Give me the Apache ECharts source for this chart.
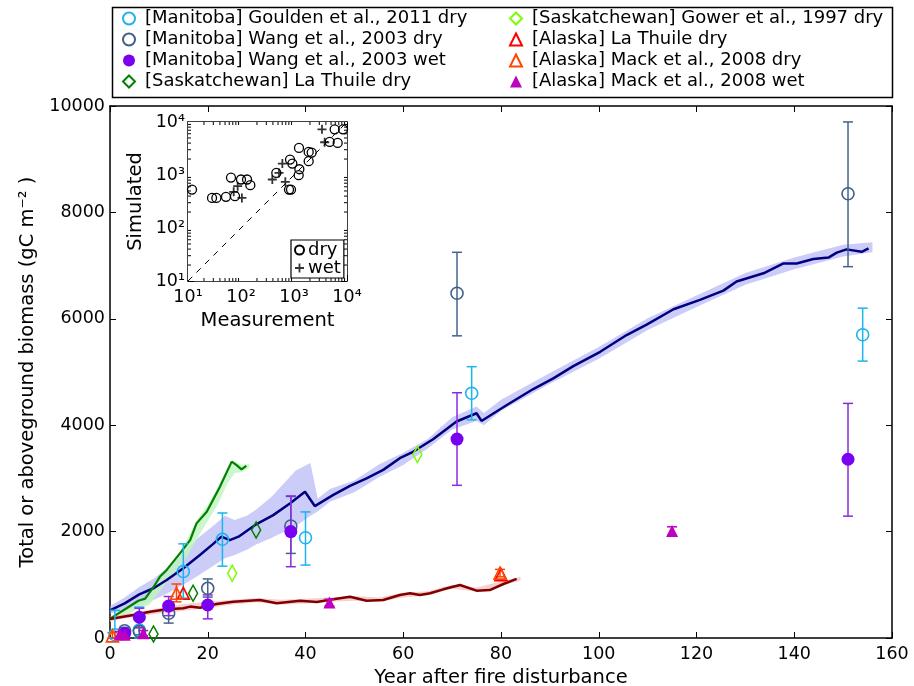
<!DOCTYPE html>
<html lang="en">
<head>
<meta charset="UTF-8">
<title>Biomass after fire disturbance</title>
<script src="https://cdn.jsdelivr.net/npm/echarts@6/dist/echarts.min.js"></script>
<style>body{margin:0;background:#fff}</style>
</head>
<body>
<div id="main" style="width:914px;height:686px;"></div>
<script>
// simulated curves
var navyYears = [0, 3, 6, 9, 11.6, 15, 18.4, 21, 22.8, 24.5, 26.3, 29.7, 33.4, 36.8, 39.9, 41.9, 45.7, 49.1, 52.5, 55.9, 59.3, 62, 66.1, 70.9, 75, 76, 81.2, 86.6, 90.7, 94.8, 100.3, 105.7, 109.8, 115.3, 120.7, 125.5, 128.2, 133.7, 137.8, 140.5, 143.9, 147, 148.7, 150.7, 153.8, 155.2];
var navyValues = [520, 650, 820, 940, 1090, 1310, 1560, 1760, 1905, 1840, 1905, 2125, 2310, 2530, 2750, 2480, 2690, 2860, 3000, 3160, 3380, 3500, 3735, 4070, 4225, 4080, 4380, 4680, 4880, 5110, 5380, 5695, 5890, 6180, 6355, 6530, 6700, 6855, 7040, 7040, 7125, 7150, 7245, 7305, 7260, 7325];
var navyBandYears = [0, 3, 6, 9, 12, 15, 18, 21, 23.5, 25.5, 28, 30, 33, 35, 38, 41, 42.5, 45, 50, 55, 60, 65, 70, 75, 76.5, 80, 90, 100, 110, 120, 130, 140, 150, 156];
var navyBandHigh = [600, 760, 960, 1120, 1340, 1600, 1880, 2100, 2300, 2220, 2300, 2420, 2650, 2850, 3150, 3290, 2620, 2800, 2960, 3260, 3480, 3740, 4150, 4350, 4230, 4480, 4980, 5470, 6010, 6440, 6860, 7150, 7390, 7440];
var navyBandLow = [460, 520, 600, 720, 850, 1000, 1170, 1350, 1500, 1560, 1660, 1760, 1880, 1970, 2100, 2300, 2380, 2560, 2740, 3020, 3250, 3560, 3920, 4080, 4000, 4270, 4780, 5250, 5790, 6220, 6640, 6930, 7170, 7250];

var greenYears = [0, 1, 3.4, 5.8, 7.2, 9.2, 10.2, 11.6, 14.3, 16.4, 17.7, 19.8, 22.5, 24.9, 25.9, 26.9, 27.9];
var greenValues = [360, 420, 560, 700, 740, 1000, 1150, 1280, 1590, 1840, 2155, 2375, 2845, 3315, 3250, 3170, 3235];
var greenBandYears = [0, 3, 6, 8, 10, 12, 14, 16, 18, 20, 22, 24, 25.5, 27, 28.5];
var greenBandHigh = [380, 560, 720, 820, 1120, 1330, 1540, 1900, 2250, 2500, 2830, 3200, 3320, 3250, 3280];
var greenBandLow = [300, 420, 560, 620, 850, 1100, 1320, 1560, 1900, 2200, 2500, 2900, 3100, 3120, 3200];

var redYears = [0, 4.8, 8.2, 11.6, 15, 16.4, 18.4, 21.8, 25.2, 30.7, 34.1, 38.9, 42.3, 45.7, 49.1, 52.5, 55.9, 59.3, 61.4, 63.4, 65.5, 68.2, 71.6, 75, 77.7, 80.5, 83.2];
var redValues = [357, 432, 495, 540, 558, 590, 570, 640, 682, 714, 652, 700, 677, 727, 776, 700, 714, 808, 840, 808, 840, 915, 996, 890, 900, 1015, 1110];
var redBandYears = [0, 5, 10, 15, 20, 25, 30, 35, 40, 45, 50, 55, 60, 65, 70, 75, 80, 84];
var redBandHigh = [400, 480, 560, 640, 680, 720, 750, 720, 740, 760, 790, 760, 850, 880, 1000, 950, 1060, 1150];
var redBandLow = [320, 400, 460, 510, 560, 630, 670, 630, 650, 680, 700, 680, 760, 800, 930, 870, 980, 1080];

// measurements: [year, value, low, high]
var goulden = [[1, 60, 0, 520], [6, 150, 0, 580], [15, 1250, 750, 1770], [23, 1855, 1350, 2350], [40, 1885, 1370, 2370], [74, 4600, 4100, 5100], [154, 5700, 5205, 6200]];
var wangDry = [[3, 137, 80, 200], [6, 125, 60, 190], [12, 464, 280, 660], [20, 934, 770, 1110], [37, 2105, 1590, 2660], [71, 6480, 5680, 7250], [151, 8350, 6980, 9700]];
var wangWet = [[3, 90, 40, 140], [6, 390, 200, 560], [12, 600, 420, 780], [20, 620, 360, 810], [37, 2000, 1340, 2670], [71, 3740, 2870, 4610], [151, 3360, 2290, 4410]];
var sasLaThuile = [[8.9, 75], [17, 840], [29.9, 2030]];
var gower = [[25, 1215], [62.9, 3450]];
var akLaThuile = [[15, 840], [80, 1190]];
var mackDry = [[0.5, 40, 0, 100], [13.6, 840, 680, 1015], [79.8, 1220, 1150, 1290]];
var mackWet = [[2, 70, 20, 120], [3, 60, 20, 100], [6.8, 90, 40, 140], [44.9, 665, 600, 730], [115, 2010, 1930, 2090]];

// inset: [measurement, simulated]
var insetDry = [[11.9, 532], [28.4, 370], [34.3, 370], [52, 387], [64.7, 896], [77, 399], [100, 822], [130, 822], [150, 643], [464, 1096], [841, 1955], [931, 1643], [805, 532], [878, 532], [1242, 3242], [1262, 1285], [1225, 991], [1892, 1820], [1892, 2730], [2155, 2650], [4709, 4207], [6668, 4026], [5850, 7280], [8410, 7280]];
var insetWet = [[86.5, 615], [72.8, 481], [104, 370], [390, 822], [521, 1096], [603, 1643], [686, 743], [3373, 7280], [3791, 4150]];
var oneToOne = [[10, 10], [10000, 10000]];

var names = ['[Manitoba] Goulden et al., 2011 dry', '[Manitoba] Wang et al., 2003 dry', '[Manitoba] Wang et al., 2003 wet', '[Saskatchewan] La Thuile dry',
  '[Saskatchewan] Gower et al., 1997 dry', '[Alaska] La Thuile dry', '[Alaska] Mack et al., 2008 dry', '[Alaska] Mack et al., 2008 wet'];

var font = 'DejaVu Sans';
var plusPath = 'path://M4,0L6,0L6,4L10,4L10,6L6,6L6,10L4,10L4,6L0,6L0,4L4,4Z';
var sup = {1: '10\u00b9', 2: '10\u00b2', 3: '10\u00b3', 4: '10\u2074'};

// log minor tick positions for the inset (2..9 x 10^k)
var minorTicks = [];
for (var k = 1; k < 4; k++) for (var m = 2; m < 10; m++) minorTicks.push(m * Math.pow(10, k));

function band(years, low, high, color) {
  return {
    type: 'custom', xAxisIndex: 0, yAxisIndex: 0, z: 1, silent: true,
    data: years.map(function (y, i) { return [y, low[i], high[i]]; }),
    encode: {x: 0, y: [1, 2]},
    renderItem: function (params, api) {
      if (params.dataIndex !== 0) return;
      var p = [];
      for (var i = 0; i < years.length; i++) p.push(api.coord([years[i], high[i]]));
      for (var j = years.length - 1; j >= 0; j--) p.push(api.coord([years[j], low[j]]));
      return {type: 'polygon', shape: {points: p}, style: {fill: color}};
    }
  };
}

function line(years, vals, color, w) {
  return {
    type: 'line', xAxisIndex: 0, yAxisIndex: 0, z: 2, symbol: 'none', silent: true,
    data: years.map(function (y, i) { return [y, vals[i]]; }),
    lineStyle: {color: color, width: w}
  };
}

function errBars(rows, color) {
  return {
    type: 'custom', xAxisIndex: 0, yAxisIndex: 0, z: 3, silent: true,
    data: rows.filter(function (r) { return r.length > 2; }),
    encode: {x: 0, y: [2, 3]},
    renderItem: function (params, api) {
      var x = api.value(0);
      var a = api.coord([x, api.value(3)]), b = api.coord([x, api.value(2)]);
      var st = {stroke: color, lineWidth: 1.5};
      return {type: 'group', children: [
        {type: 'line', shape: {x1: a[0], y1: a[1], x2: b[0], y2: b[1]}, style: st},
        {type: 'line', shape: {x1: a[0] - 5, y1: a[1], x2: a[0] + 5, y2: a[1]}, style: st},
        {type: 'line', shape: {x1: b[0] - 5, y1: b[1], x2: b[0] + 5, y2: b[1]}, style: st}
      ]};
    }
  };
}

function pts(name, rows, symbol, size, color, hollow) {
  return {
    name: name, type: 'scatter', xAxisIndex: 0, yAxisIndex: 0, z: 4,
    symbol: symbol, symbolSize: size,
    itemStyle: hollow ? {color: 'rgba(255,255,255,0)', borderColor: color, borderWidth: 1.6, opacity: 1}
                      : {color: color, opacity: 1},
    data: rows.map(function (r) { return [r[0], r[1]]; })
  };
}

// minor ticks of the inset log axes, drawn on all four sides
var insetMinor = {
  type: 'custom', xAxisIndex: 2, yAxisIndex: 2, z: 6, silent: true,
  data: minorTicks.map(function (v) { return [v, v]; }),
  renderItem: function (params, api) {
    var v = api.value(0);
    var lo = api.coord([10, 10]), hi = api.coord([10000, 10000]);
    var px = api.coord([v, 10])[0], py = api.coord([10, v])[1];
    var st = {stroke: '#000', lineWidth: 1};
    return {type: 'group', children: [
      {type: 'line', shape: {x1: px, y1: lo[1], x2: px, y2: lo[1] - 3}, style: st},
      {type: 'line', shape: {x1: px, y1: hi[1], x2: px, y2: hi[1] + 3}, style: st},
      {type: 'line', shape: {x1: lo[0], y1: py, x2: lo[0] + 3, y2: py}, style: st},
      {type: 'line', shape: {x1: hi[0], y1: py, x2: hi[0] - 3, y2: py}, style: st}
    ]};
  }
};

var axisLine = {show: true, onZero: false, lineStyle: {color: '#000', width: 1.5}};
var tickIn = {show: true, inside: true, length: 6, lineStyle: {color: '#000', width: 1}};
var lbl = {color: '#000', fontSize: 17.5, fontFamily: font};
var nameStyle = {fontSize: 19.5, fontFamily: font, color: '#000'};
var legendText = {fontSize: 18, fontFamily: font, color: '#000', lineHeight: 21, padding: [0, 0, 0, 5]};
function logLabel(v) { return sup[Math.round(Math.log10(v))]; }

var chart = echarts.init(document.getElementById('main'));
chart.setOption({
  backgroundColor: '#fff',
  animation: false,
  grid: [
    {left: 110, top: 106, width: 782, height: 532, outerBoundsMode: 'none', containLabel: false},
    {left: 188, top: 122, width: 159, height: 159, outerBoundsMode: 'none', containLabel: false,
      show: true, backgroundColor: '#fff', borderWidth: 0, z: 5}
  ],
  graphic: [{type: 'rect', left: 110, top: 5, shape: {width: 780, height: 90}, style: {fill: 'none', stroke: '#000', lineWidth: 1.5}}],
  legend: [
    {data: names.slice(0, 4), orient: 'vertical', left: 122, top: 8, padding: 0, itemWidth: 12, itemHeight: 12, itemGap: 0, textStyle: legendText},
    {data: names.slice(4), orient: 'vertical', left: 509, top: 8, padding: 0, itemWidth: 12, itemHeight: 12, itemGap: 0, textStyle: legendText},
    {data: ['dry', 'wet'], orient: 'vertical', left: 291, top: 240, padding: [1, 3, 1, 3], itemWidth: 9, itemHeight: 9, itemGap: 0,
      borderColor: '#000', borderWidth: 1.2, backgroundColor: '#fff', z: 8,
      textStyle: {fontSize: 18, fontFamily: font, color: '#000', lineHeight: 18, padding: [0, 0, 0, -1]}}
  ],
  xAxis: [
    {gridIndex: 0, type: 'value', min: 0, max: 160, interval: 20, axisLine: axisLine, axisTick: tickIn, splitLine: {show: false},
      axisLabel: Object.assign({margin: 7, formatter: function (v) { return String(v); }}, lbl),
      name: 'Year after fire disturbance', nameLocation: 'middle', nameGap: 30, nameTextStyle: nameStyle},
    {gridIndex: 0, type: 'value', position: 'top', min: 0, max: 160, interval: 20, axisLine: axisLine, axisTick: tickIn, splitLine: {show: false}, axisLabel: {show: false}},
    {gridIndex: 1, type: 'log', logBase: 10, min: 10, max: 10000, axisLine: axisLine, axisTick: tickIn, splitLine: {show: false},
      axisLabel: Object.assign({margin: 7, formatter: logLabel}, lbl),
      name: 'Measurement', nameLocation: 'middle', nameGap: 30, nameTextStyle: nameStyle},
    {gridIndex: 1, type: 'log', logBase: 10, position: 'top', min: 10, max: 10000, axisLine: axisLine, axisTick: tickIn, splitLine: {show: false}, axisLabel: {show: false}}
  ],
  yAxis: [
    {gridIndex: 0, type: 'value', min: 0, max: 10000, interval: 2000, axisLine: axisLine, axisTick: tickIn, splitLine: {show: false},
      axisLabel: Object.assign({margin: 5, formatter: function (v) { return String(v); }}, lbl),
      name: 'Total or aboveground biomass (gC m\u207b\u00b2 )', nameLocation: 'middle', nameGap: 72, nameTextStyle: nameStyle},
    {gridIndex: 0, type: 'value', position: 'right', min: 0, max: 10000, interval: 2000, axisLine: axisLine, axisTick: tickIn, splitLine: {show: false}, axisLabel: {show: false}},
    {gridIndex: 1, type: 'log', logBase: 10, min: 10, max: 10000, axisLine: axisLine, axisTick: tickIn, splitLine: {show: false},
      axisLabel: Object.assign({margin: 3, formatter: logLabel}, lbl),
      name: 'Simulated', nameLocation: 'middle', nameGap: 42, nameTextStyle: nameStyle},
    {gridIndex: 1, type: 'log', logBase: 10, position: 'right', min: 10, max: 10000, axisLine: axisLine, axisTick: tickIn, splitLine: {show: false}, axisLabel: {show: false}}
  ],
  series: [
    band(navyBandYears, navyBandLow, navyBandHigh, 'rgba(170,170,245,0.6)'),
    band(greenBandYears, greenBandLow, greenBandHigh, 'rgba(190,245,190,0.8)'),
    band(redBandYears, redBandLow, redBandHigh, 'rgba(245,185,185,0.7)'),
    line(navyYears, navyValues, '#000080', 2.5),
    line(greenYears, greenValues, '#008000', 2.2),
    line(redYears, redValues, '#800000', 2.5),
    errBars(goulden, '#1db4ee'),
    errBars(wangDry, '#44648e'),
    errBars(wangWet, '#8a2be2'),
    errBars(mackDry, '#ff4500'),
    errBars(mackWet, '#c000c0'),
    pts(names[0], goulden, 'circle', 12, '#1db4ee', true),
    pts(names[1], wangDry, 'circle', 12, '#40608c', true),
    pts(names[2], wangWet, 'circle', 13, '#7a00f0', false),
    pts(names[3], sasLaThuile, 'diamond', [9, 16], '#008000', true),
    pts(names[4], gower, 'diamond', [9, 16], '#7cfc00', true),
    pts(names[5], akLaThuile, 'triangle', 12, '#ff0000', true),
    pts(names[6], mackDry, 'triangle', 12, '#ff4500', true),
    pts(names[7], mackWet, 'triangle', 12, '#c000c0', false),
    insetMinor,
    {type: 'line', xAxisIndex: 2, yAxisIndex: 2, z: 6, symbol: 'none', silent: true, data: oneToOne,
      lineStyle: {color: '#000', width: 1, type: [6, 6]}},
    {name: 'dry', type: 'scatter', xAxisIndex: 2, yAxisIndex: 2, z: 7, symbol: 'circle', symbolSize: 9,
      itemStyle: {color: 'rgba(255,255,255,0)', borderColor: '#000', borderWidth: 1.3, opacity: 1}, data: insetDry},
    {name: 'wet', type: 'scatter', xAxisIndex: 2, yAxisIndex: 2, z: 7, symbol: plusPath, symbolSize: 9,
      itemStyle: {color: '#000'}, data: insetWet}
  ]
});
</script>
</body>
</html>
